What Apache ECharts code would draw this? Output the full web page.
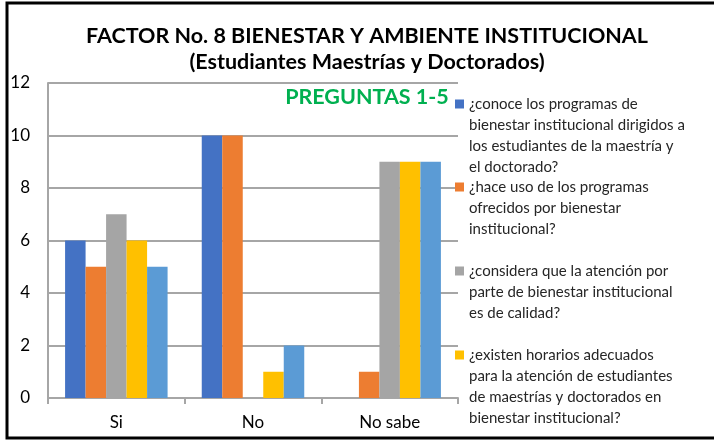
<!DOCTYPE html>
<html>
<head>
<meta charset="utf-8">
<script src="https://cdn.jsdelivr.net/npm/echarts@6/dist/echarts.min.js"></script>
<style>
  html, body { margin: 0; padding: 0; background: #fff; }
  #chart { width: 714px; height: 440px; }
</style>
</head>
<body>
<div id="chart"></div>
<script>
// categorias y valores
var categories = ['Si', 'No', 'No sabe'];
var seriesNames = [
  '¿conoce los programas de\nbienestar institucional dirigidos a\nlos estudiantes de la maestría y\nel doctorado?',
  '¿hace uso de los programas\nofrecidos por bienestar\ninstitucional?',
  '¿considera que la atención por\nparte de bienestar institucional\nes de calidad?',
  '¿existen horarios adecuados\npara la atención de estudiantes\nde maestrías y doctorados en\nbienestar institucional?',
  'Pregunta 5'
];
var pregunta1 = [6, 10, 0];
var pregunta2 = [5, 10, 1];
var pregunta3 = [7, 0, 9];
var pregunta4 = [6, 1, 9];
var pregunta5 = [5, 2, 9];
var yTicks = [0, 2, 4, 6, 8, 10, 12];

var colors = ['#4472C4', '#ED7D31', '#A5A5A5', '#FFC000', '#5B9BD5'];
var values = [pregunta1, pregunta2, pregunta3, pregunta4, pregunta5];
var font = 'Lato';

var myChart = echarts.init(document.getElementById('chart'));

// leyenda: una por item, icono alineado con la primera linea
// (se anteponen lineas vacias para que la primera linea quede en el centro)
var legendCenters = [104, 187, 271, 355];
var legends = [];
for (var i = 0; i < 4; i++) {
  (function (i) {
    var n = seriesNames[i].split('\n').length;
    var lh = 21;
    var prefix = new Array(n).join('\n');
    var boxH = (2 * n - 1) * lh;
    legends.push({
      data: [seriesNames[i]],
      orient: 'vertical',
      left: 455,
      top: legendCenters[i] - boxH / 2,
      padding: 0,
      itemWidth: 9,
      itemHeight: 9,
      icon: 'rect',
      selectedMode: false,
      formatter: function (name) { return prefix + name; },
      textStyle: {
        fontFamily: font,
        fontSize: 15,
        color: '#262626',
        lineHeight: lh
      }
    });
  })(i);
}

var series = [];
for (var k = 0; k < values.length; k++) {
  series.push({
    name: seriesNames[k],
    type: 'bar',
    data: values[k],
    barGap: '0%',
    barCategoryGap: '25%',
    itemStyle: { color: colors[k] }
  });
}

myChart.setOption({
  animation: false,
  title: [
    {
      text: 'FACTOR No. 8 BIENESTAR Y AMBIENTE INSTITUCIONAL',
      left: 362, top: 20, textAlign: 'center',
      textStyle: { fontFamily: font, fontSize: 21.5, fontWeight: 'bold', color: '#000' }
    },
    {
      text: '(Estudiantes Maestrías y Doctorados)',
      left: 362, top: 46, textAlign: 'center',
      textStyle: { fontFamily: font, fontSize: 21.5, fontWeight: 'bold', color: '#000' }
    },
    {
      text: 'PREGUNTAS 1-5',
      left: 362, top: 81, textAlign: 'center',
      textStyle: { fontFamily: font, fontSize: 21.5, fontWeight: 'bold', color: '#00B050' }
    }
  ],
  legend: legends,
  graphic: [{
    type: 'rect',
    shape: { x: 7, y: 3, width: 800, height: 435 },
    style: { fill: null, stroke: '#000', lineWidth: 3 },
    silent: true
  }],
  grid: { left: 48, right: 256, top: 83, bottom: 42 },
  xAxis: {
    type: 'category',
    data: categories,
    axisLine: { lineStyle: { color: '#A6A6A6', width: 2 } },
    axisTick: { show: true, length: 6, lineStyle: { color: '#A6A6A6', width: 2 } },
    axisLabel: { fontFamily: font, fontSize: 17, color: '#000', margin: 16 }
  },
  yAxis: {
    type: 'value',
    min: yTicks[0],
    max: yTicks[yTicks.length - 1],
    interval: 2,
    axisLine: { show: true, lineStyle: { color: '#A6A6A6', width: 2 } },
    axisTick: { show: false },
    splitLine: { lineStyle: { color: '#A6A6A6', width: 2 } },
    axisLabel: { fontFamily: font, fontSize: 17, color: '#000', margin: 18 }
  },
  series: series
});
</script>
</body>
</html>
